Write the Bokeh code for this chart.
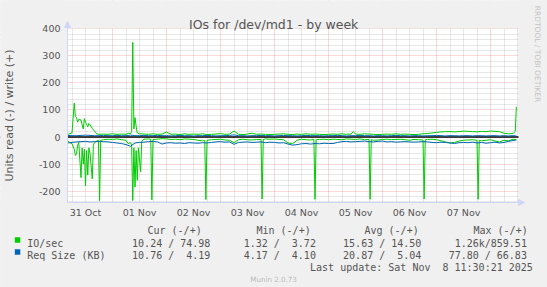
import math
from bokeh.plotting import figure
from bokeh.models import (Range1d, FixedTicker, Grid, Label, Span, Arrow,
                          NormalHead, BoxAnnotation)
from bokeh.embed import file_html
from bokeh.resources import INLINE

# ---------------- data (hours since 31 Oct 00:00) ----------------
day_labels = ["31 Oct", "01 Nov", "02 Nov", "03 Nov", "04 Nov", "05 Nov", "06 Nov", "07 Nov"]
noon_hours = [12, 36, 60, 84, 108, 132, 156, 180]
y_ticks = [-200, -100, 0, 100, 200, 300, 400]

# IO/sec read (drawn negative): (hour, value)
io_read = [(4, 15), (5, 20), (6, 25), (7, 45), (7.5, 68), (8, 62), (8.5, 30), (9, 20),
           (10, 150), (10.5, 40), (11, 100), (11.5, 45), (12, 180), (12.5, 50), (13, 140),
           (13.5, 40), (14, 60), (15, 155), (15.5, 30), (16, 20), (17, 15), (17.75, 12),
           (18.25, 235), (18.75, 12), (20, 10), (22, 8), (24, 9), (26, 7), (28, 10), (30, 12),
           (31, 25), (32, 20), (32.5, 30), (33, 235), (33.5, 40), (34, 185), (34.5, 50),
           (35, 160), (35.5, 40), (36.5, 128), (37, 15), (38, 8), (40, 7), (41, 8),
           (41.5, 232), (42, 9), (44, 8), (46, 6), (48, 7), (50, 9), (52, 8), (54, 10),
           (56, 7), (58, 8), (60, 9), (62, 12), (64, 14), (65, 13), (65.5, 231), (66, 12),
           (68, 10), (70, 9), (72, 8), (74, 11), (76, 12), (78, 21), (80, 10), (82, 8),
           (84, 10), (86, 11), (88, 9), (90, 9), (90.5, 229), (91, 9), (92, 7), (94, 8),
           (96, 7), (98, 9), (100, 10), (102, 22), (104, 25), (106, 12), (108, 8), (110, 10),
           (112, 11), (113.5, 9), (114, 230), (114.5, 10), (116, 9), (118, 8), (120, 10),
           (122, 8), (124, 9), (126, 10), (128, 7), (130, 8), (132, 9), (134, 7), (136, 10),
           (138, 9), (138.5, 230), (139, 10), (140, 12), (142, 11), (144, 9), (146, 8),
           (148, 10), (150, 9), (152, 8), (154, 10), (156, 12), (158, 9), (160, 10),
           (162, 11), (162.5, 229), (163, 10), (164, 9), (166, 8), (168, 10), (170, 14),
           (172, 18), (174, 22), (176, 20), (178, 15), (180, 12), (182, 11), (184, 10),
           (186, 12), (186.5, 230), (187, 12), (188, 14), (190, 12), (192, 10), (194, 15),
           (196, 18), (198, 12), (200, 14), (202, 8), (203.5, 10.24)]

# IO/sec write (drawn positive)
io_write = [(4, 10), (5, 12), (6, 15), (7, 125), (7.5, 75), (8, 72), (8.5, 55), (9, 65),
            (10, 63), (10.5, 45), (11, 30), (11.5, 68), (12, 55), (13, 38), (13.5, 50),
            (14, 45), (15, 32), (16, 22), (17, 12), (18, 10), (20, 11), (22, 10), (24, 12),
            (26, 10), (28, 11), (30, 10), (31, 14), (32, 12), (32.5, 20), (33, 350),
            (33.5, 30), (34, 72), (34.5, 40), (35, 15), (36, 12), (38, 11), (40, 10),
            (42, 12), (44, 10), (46, 11), (48, 18), (50, 10), (52, 11), (54, 9), (56, 12),
            (58, 10), (60, 11), (62, 10), (64, 12), (66, 9), (68, 10), (70, 11), (72, 13),
            (74, 10), (76, 11), (78, 22), (80, 10), (82, 9), (84, 11), (86, 14), (88, 10),
            (90, 11), (92, 10), (94, 9), (96, 10), (98, 11), (100, 12), (102, 10), (104, 9),
            (106, 11), (108, 10), (110, 12), (112, 10), (114, 11), (116, 10), (118, 9),
            (120, 10), (122, 11), (124, 10), (126, 12), (128, 10), (130, 11), (131, 20),
            (132, 11), (134, 10), (136, 12), (138, 11), (140, 10), (142, 9), (144, 10),
            (146, 11), (148, 10), (150, 12), (152, 10), (154, 11), (156, 10), (158, 9),
            (160, 10), (162, 12), (164, 13), (166, 15), (168, 17), (170, 19), (172, 20),
            (174, 20), (176, 19), (178, 20), (180, 22), (182, 21), (184, 20), (186, 19),
            (188, 21), (190, 20), (192, 22), (194, 21), (196, 20), (198, 14), (200, 12),
            (202, 13), (203, 21), (203.5, 112)]

# Req Size (KB), sampled every 2 h from 04:00 on 31 Oct, last point at 08 Nov 11:30
req_hours = [4 + 2 * i for i in range(100)] + [203.5]
req_read = [22, 20, 18, 17, 16, 18, 17, 16, 17, 18,
            20, 22, 24, 28, 34, 22, 20, 19, 17, 16,
            18, 26, 22, 21, 23, 22, 24, 21, 22, 23,
            21, 22, 20, 18, 17, 19, 18, 27, 20, 19,
            18, 20, 19, 18, 21, 19, 20, 22, 21, 26,
            30, 28, 25, 24, 26, 24, 25, 23, 24, 24,
            20, 17, 16, 18, 17, 16, 15, 17, 18, 16,
            15, 18, 17, 19, 18, 17, 18, 19, 18, 17,
            18, 20, 21, 19, 20, 22, 24, 21, 20, 21,
            19, 22, 20, 23, 21, 19, 22, 20, 16, 13,
            10.76]
req_write = [6, 5, 5, 6, 7, 6, 5, 5, 6, 5,
             5, 6, 5, 5, 7, 5, 5, 6, 5, 5,
             6, 5, 5, 4, 5, 6, 5, 5, 4, 5,
             5, 6, 5, 4, 5, 5, 6, 8, 5, 5,
             4, 5, 5, 6, 5, 5, 4, 5, 6, 5,
             5, 4, 5, 6, 5, 5, 5, 4, 5, 5,
             6, 5, 4, 5, 5, 6, 5, 5, 4, 5,
             5, 4, 5, 6, 5, 5, 4, 5, 5, 4,
             5, 5, 6, 5, 4, 5, 5, 4, 5, 5,
             4, 5, 5, 4, 5, 5, 4, 5, 4, 5,
             4.19]

series_names = ["IO/sec", "Req Size (KB)"]
series_colors = ["#00CC00", "#0066B3"]
stat_headers = ["Cur (-/+)", "Min (-/+)", "Avg (-/+)", "Max (-/+)"]
stat_cur = [("10.24", "74.98"), ("10.76", "4.19")]
stat_min = [("1.32", "3.72"), ("4.17", "4.10")]
stat_avg = [("15.63", "14.50"), ("20.87", "5.04")]
stat_max = [("1.26k", "859.51"), ("77.80", "66.83")]
title_text = "IOs for /dev/md1 - by week"
ylabel_text = "Units read (-) / write (+)"
last_update = "Last update: Sat Nov \u00a08 11:30:21 2025"
watermark = "RRDTOOL / TOBI OETIKER"
footer = "Munin 2.0.73"

# ---------------- layout ----------------
W, H = 547, 287
L, R, T, B = 67, 518, 28, 202          # plot area (canvas px)
X0 = 4.0
X1 = X0 + (R - L) / 2.25
Y1 = 401.0
Y0 = Y1 - (B - T) * 3.695

def dx(px):
    return X0 + (px - L) * (X1 - X0) / (R - L)

def dy(py):
    return Y1 - (py - T) * (Y1 - Y0) / (B - T)

FONT_COL = "#555555"
AXIS_COL = "#CFD6F8"
BACK = "#F0F0F0"

# frame covers the whole canvas; axes are pinned to the plot-area edges
p = figure(width=W, height=H, x_range=Range1d(dx(0), dx(W)), y_range=Range1d(dy(H), dy(0)),
           output_backend="svg", toolbar_location=None, title=None,
           min_border_left=0, min_border_right=0, min_border_top=0, min_border_bottom=0,
           background_fill_color=BACK, border_fill_color=BACK, outline_line_color=None)

p.xgrid.visible = False
p.ygrid.visible = False

# white canvas
p.add_layout(BoxAnnotation(left=X0, right=X1, bottom=Y0, top=Y1, fill_color="#FFFFFF",
                           fill_alpha=1, line_color=None, level="underlay"))

# grids
minor_x = [h for h in range(6, 205, 6) if h % 24 != 0]
major_x = [h for h in range(24, 205, 24)]
minor_y = [v for v in range(-240, 401, 20) if v % 100 != 0]
major_y = y_ticks
for dim, ticks in ((0, minor_x), (1, minor_y)):
    p.add_layout(Grid(dimension=dim, ticker=FixedTicker(ticks=ticks),
                      grid_line_color="#8F8F8F", grid_line_alpha=0.42,
                      grid_line_dash="1 1", level="underlay"))
for dim, ticks in ((0, major_x), (1, major_y)):
    p.add_layout(Grid(dimension=dim, ticker=FixedTicker(ticks=ticks),
                      grid_line_color="#DE4F4F", grid_line_alpha=0.42,
                      grid_line_dash="1 1", level="underlay"))

p.add_layout(Span(location=0, dimension="width", line_color="#000000",
                  line_width=1.6, level="underlay"))

# mask grid lines outside the plot area
XA, XB, YA, YB = dx(-5), dx(W + 5), dy(H + 5), dy(-5)
for l, r, b, t in ((XA, XB, Y1, YB), (XA, XB, YA, Y0), (XA, X0, YA, YB), (X1, XB, YA, YB)):
    p.add_layout(BoxAnnotation(left=l, right=r, bottom=b, top=t, fill_color=BACK,
                               fill_alpha=1, line_color=None, level="underlay"))

# axes
p.xaxis.fixed_location = Y0
p.yaxis.fixed_location = X0
p.xaxis.bounds = (X0, X1)
p.yaxis.bounds = (Y0, Y1)
p.xaxis.ticker = FixedTicker(ticks=noon_hours)
p.xaxis.major_label_overrides = {h: lab for h, lab in zip(noon_hours, day_labels)}
p.yaxis.ticker = FixedTicker(ticks=y_ticks)
p.yaxis.major_label_overrides = {v: str(v) for v in y_ticks}
for ax in (p.xaxis, p.yaxis):
    ax.axis_line_color = AXIS_COL
    ax.major_tick_line_color = None
    ax.minor_tick_line_color = None
    ax.major_tick_out = 0
    ax.major_tick_in = 0
    ax.minor_tick_out = 0
    ax.minor_tick_in = 0
    ax.major_label_text_font = "DejaVu Sans"
    ax.major_label_text_font_size = "9.5px"
    ax.major_label_text_color = FONT_COL
p.xaxis.major_label_standoff = 4
p.yaxis.major_label_standoff = 7
p.yaxis.axis_label = ylabel_text
p.yaxis.axis_label_text_font = "DejaVu Sans"
p.yaxis.axis_label_text_font_size = "11px"
p.yaxis.axis_label_text_font_style = "normal"
p.yaxis.axis_label_text_color = FONT_COL
p.yaxis.axis_label_standoff = 20

# series
p.line([t for t, v in io_read], [-v for t, v in io_read], line_color=series_colors[0], line_width=1)
p.line([t for t, v in io_write], [v for t, v in io_write], line_color=series_colors[0], line_width=1)
p.line(req_hours, [-v for v in req_read], line_color=series_colors[1], line_width=1)
p.line(req_hours, req_write, line_color=series_colors[1], line_width=1)

# axis arrows
p.add_layout(Arrow(end=NormalHead(size=6, fill_color=AXIS_COL, line_color=AXIS_COL),
                   x_start=X0, y_start=dy(40), x_end=X0, y_end=dy(21),
                   line_color=AXIS_COL, line_width=1))
p.add_layout(Arrow(end=NormalHead(size=6, fill_color=AXIS_COL, line_color=AXIS_COL),
                   x_start=dx(505), y_start=Y0, x_end=dx(524), y_end=Y0,
                   line_color=AXIS_COL, line_width=1))

def text(px, py, s, size, font="DejaVu Sans", align="left", baseline="alphabetic",
         color=FONT_COL, angle=0.0):
    p.add_layout(Label(x=dx(px), y=dy(py), text=s, text_font=font,
                       text_font_size=size, text_align=align,
                       text_baseline=baseline, text_color=color, angle=angle))

text(273.2, 24, title_text, "12.5px", align="center")
text(536.7, 53.5, watermark, "7.5px", align="center", baseline="middle",
     color="#C4C4C4", angle=-math.pi / 2)
text(273, 278.6, footer, "7.1px", align="center", color="#BBBBBB")

MONO = "DejaVu Sans Mono"
MS = "10px"
header_x = [147, 256, 364, 473]
for hx, h in zip(header_x, stat_headers):
    text(hx, 230.4, h, MS, font=MONO)

slash_x = [167.7, 273.3, 378.7, 484.3]
row_y = [242.5, 254.5]
for i in range(2):
    yb = row_y[i]
    p.add_layout(BoxAnnotation(left=dx(14.3), right=dx(19.8), top=dy(yb - 5.8),
                               bottom=dy(yb - 0.3), fill_color=series_colors[i],
                               fill_alpha=1, line_color=None))
    text(26.7, yb, series_names[i], MS, font=MONO)
    for sx, stat in zip(slash_x, (stat_cur, stat_min, stat_avg, stat_max)):
        left, right = stat[i]
        lend = sx if left.endswith("k") else sx - 6.02
        text(lend, yb, left, MS, font=MONO, align="right")
        text(sx, yb, "/", MS, font=MONO)
        text(sx + 42.1, yb, right, MS, font=MONO, align="right")

text(532.3, 266.6, last_update, MS, font=MONO, align="right")

open("out.html", "w").write(file_html(p, INLINE))
